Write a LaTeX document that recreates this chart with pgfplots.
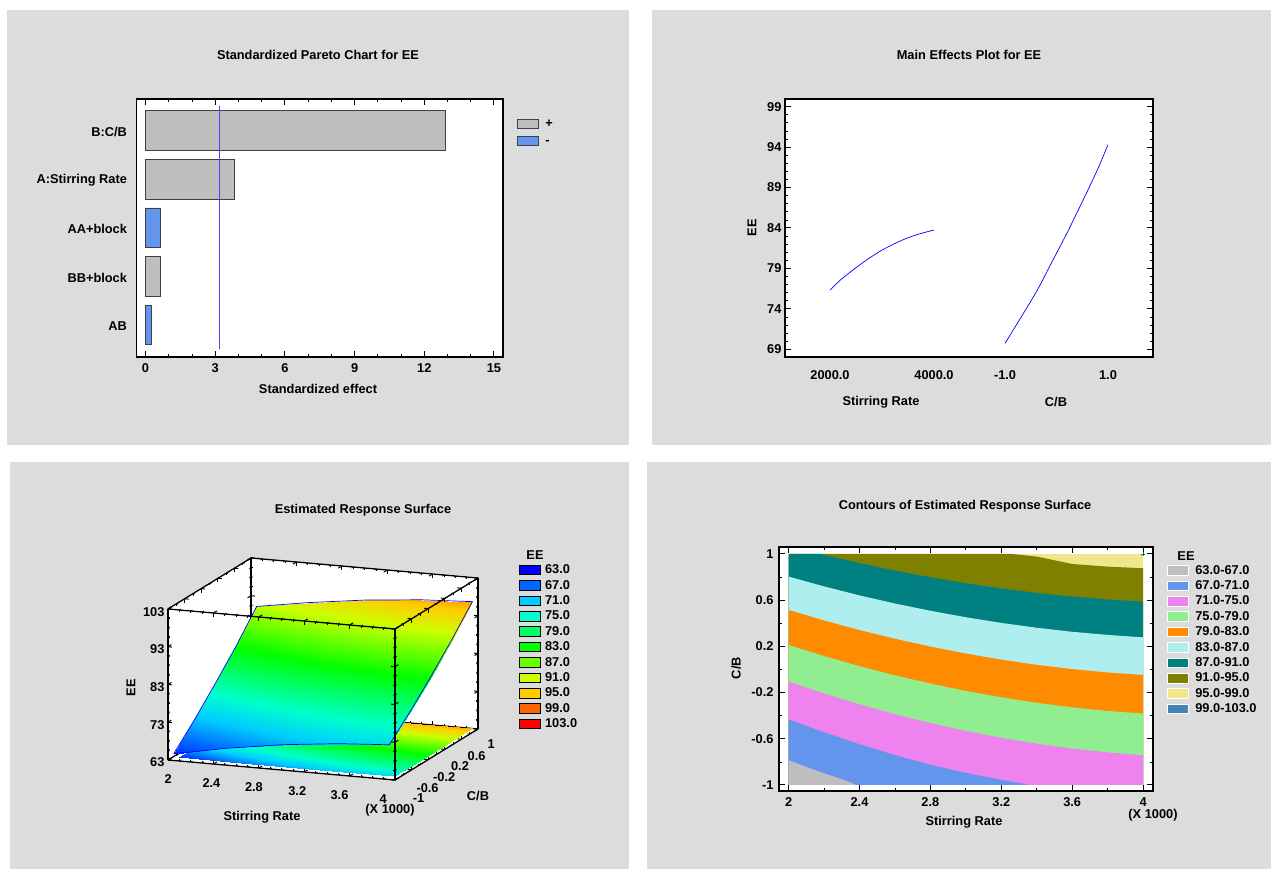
\documentclass[border=0pt]{standalone}
\usepackage{fontspec}
\setmainfont{Liberation Sans}
\usepackage{pgfplots}
\pgfplotsset{compat=1.18}
\definecolor{panel}{RGB}{220,220,220}
\definecolor{cA}{RGB}{190,190,190}
\definecolor{cB}{RGB}{100,149,237}
\definecolor{cC}{RGB}{238,130,238}
\definecolor{cD}{RGB}{144,238,144}
\definecolor{cE}{RGB}{255,140,0}
\definecolor{cF}{RGB}{175,238,238}
\definecolor{cG}{RGB}{0,128,128}
\definecolor{cH}{RGB}{128,128,0}
\definecolor{cI}{RGB}{240,230,140}
\definecolor{cJ}{RGB}{70,130,180}
\definecolor{critline}{RGB}{70,70,255}
\newcommand{\ff}{\fontsize{12.8pt}{15pt}\selectfont\bfseries}
\newcommand{\lab}[4][]{\node[font=\ff,inner sep=0pt,#1] at (#2,869-#3) {#4};}
\pgfplotsset{
  sta/.style={scale only axis, anchor=south west, clip=false,
    axis line style={line width=1.3pt,black},
    tick align=inside,
    major tick length=6pt, minor tick length=3pt,
    tick style={black,line width=1pt},
    minor tick style={black,line width=.7pt},
    tick label style={font=\ff},
    legend cell align=left},
  swatch/.style={legend image code/.code={\draw[##1,line width=.8pt] (0pt,-4.8pt) rectangle (21pt,4.8pt);},
    legend style={draw=none,fill=none,inner sep=0pt,row sep=#1,font=\ff,
      nodes={inner sep=0pt,text height=8.6pt,text depth=1.2pt},
      /tikz/every odd column/.append style={column sep=6.5pt}}},
}
\begin{document}
\begin{tikzpicture}[x=1pt,y=1pt]
\path[use as bounding box,fill=white] (0,0) rectangle (1271,869);
\fill[panel] (7,869-10) rectangle (629,869-445);
\fill[panel] (652,869-10) rectangle (1271,869-445);
\fill[panel] (10,869-462) rectangle (629,0);
\fill[panel] (647,869-462) rectangle (1271,0);
% white walls of the 3D box
\fill[white] (168,869-760) -- (168,869-609) -- (250,869-558) -- (478,869-577) -- (478,869-729) -- (395,869-780) -- cycle;

\lab{318}{55}{Standardized Pareto Chart for EE}
\lab{969}{55}{Main Effects Plot for EE}
\lab{363}{510.5}{Estimated Response Surface}
\lab{965}{506.5}{Contours of Estimated Response Surface}

% ---------- Pareto
\begin{axis}[sta,swatch=6.8pt,at={(136.5pt,512pt)},width=366.5pt,height=258pt,
  axis background/.style={fill=white},
  xmin=-0.39,xmax=15.39,ymin=-0.66,ymax=4.65,
  xtick={0,3,6,9,12,15},xticklabels={0,3,6,9,12,15},minor x tick num=2,
  ytick={0,1,2,3,4},yticklabels={AB,BB+block,AA+block,A:Stirring Rate,B:C/B},
  ytick style={draw=none},
  yticklabel style={xshift=-6pt,yshift=-1.5pt},
  xticklabel style={yshift=-3pt},
  legend style={at={(1.038,0.925)},anchor=north west}]
\addplot[xbar,bar width=39.5pt,bar shift=0pt,fill=cA,draw=black!75,line width=.8pt] coordinates {(12.9,4) (3.84,3) (0.65,1)};
\addlegendentry{+}
\addplot[xbar,bar width=39.5pt,bar shift=0pt,fill=cB,draw=black!75,line width=.8pt] coordinates {(0.65,2) (0.23,0)};
\addlegendentry{-}
\end{axis}
% critical-effect line, in an overlay axis of the same geometry
\begin{axis}[scale only axis,anchor=south west,at={(136.5pt,512pt)},width=366.5pt,height=258pt,
  hide axis,xmin=-0.39,xmax=15.39,ymin=-0.66,ymax=4.65]
\addplot[critline,line width=1pt] coordinates {(3.2,-0.5) (3.2,4.5)};
\end{axis}
\lab{318}{389}{Standardized effect}

% ---------- Main effects
\begin{axis}[sta,at={(785pt,512pt)},width=368pt,height=258pt,
  axis background/.style={fill=white},
  xmin=-0.433,xmax=3.106,ymin=68.05,ymax=99.95,
  xtick={0,1,1.683,2.673},xticklabels={2000.0,4000.0,-1.0,1.0},
  xtick style={draw=none},xticklabel style={yshift=-10pt},
  ytick={69,74,79,84,89,94,99},yticklabels={69,74,79,84,89,94,99},minor y tick num=4]
\addplot[blue,line width=.7pt,smooth] coordinates {(0,76.33) (0.10,77.57) (0.20,78.6) (0.33,79.85) (0.50,81.27) (0.70,82.53) (0.85,83.23) (1,83.75)};
\addplot[blue,line width=.7pt,smooth] coordinates {(1.683,69.74) (1.752,71.18) (1.985,76.13) (2.119,79.43) (2.277,83.33) (2.371,85.8) (2.480,88.69) (2.584,91.57) (2.673,94.3)};
\end{axis}
\lab{881}{402}{Stirring Rate}
\lab{1056}{402}{C/B}
\lab[rotate=90]{752}{228}{EE}

% ---------- 3D surface
\begin{axis}[sta,swatch=5pt,at={(168pt,89pt)},
  x={(113.5pt,-10pt)},y={(41.5pt,25.5pt)},z={(0pt,3.775pt)},
  scale only axis=false,
  xmin=2,xmax=4,ymin=-1,ymax=1,zmin=63,zmax=103,
  3d box=complete*,
  every 3d box foreground/.style={line width=1.6pt},
  xtick={2,2.4,2.8,3.2,3.6,4},
  xticklabels={\kern10pt 2,\kern6pt 2.4,2.8,3.2\kern4pt,3.6\kern10pt,4\kern14pt},
  xticklabel style={yshift=-10pt},
  minor x tick num=3,
  ytick={-1,-0.6,-0.2,0.2,0.6,1},
  yticklabels={\kern14pt -1,-0.6,-0.2,0.2,0.6,1},
  yticklabel style={xshift=6pt,yshift=-7pt},
  minor y tick num=1,
  ztick={63,73,83,93,103},zticklabels={63,73,83,93,103},minor z tick num=3,
  major tick length=4pt,minor tick length=2pt,
  colormap={ee}{rgb255=(0,0,255) rgb255=(0,102,255) rgb255=(0,204,255) rgb255=(0,255,204) rgb255=(0,255,102) rgb255=(0,255,0) rgb255=(102,255,0) rgb255=(204,255,0) rgb255=(255,204,0) rgb255=(255,102,0) rgb255=(255,0,0)},
  point meta min=63,point meta max=103,
  legend style={at={(1.129,0.973)},anchor=north west,/tikz/every odd column/.append style={column sep=4.5pt}}]
\addlegendimage{fill=blue,draw=none}\addlegendentry{63.0}
\addlegendimage{fill={rgb,255:red,0;green,102;blue,255},draw=none}\addlegendentry{67.0}
\addlegendimage{fill={rgb,255:red,0;green,204;blue,255},draw=none}\addlegendentry{71.0}
\addlegendimage{fill={rgb,255:red,0;green,255;blue,204},draw=none}\addlegendentry{75.0}
\addlegendimage{fill={rgb,255:red,0;green,255;blue,102},draw=none}\addlegendentry{79.0}
\addlegendimage{fill={rgb,255:red,0;green,255;blue,0},draw=none}\addlegendentry{83.0}
\addlegendimage{fill={rgb,255:red,102;green,255;blue,0},draw=none}\addlegendentry{87.0}
\addlegendimage{fill={rgb,255:red,204;green,255;blue,0},draw=none}\addlegendentry{91.0}
\addlegendimage{fill={rgb,255:red,255;green,204;blue,0},draw=none}\addlegendentry{95.0}
\addlegendimage{fill={rgb,255:red,255;green,102;blue,0},draw=none}\addlegendentry{99.0}
\addlegendimage{fill={rgb,255:red,255;green,0;blue,0},draw=none}\addlegendentry{103.0}
% floor projection
\addplot3[surf,shader=interp,forget plot,point meta=explicit] table[x=x,y=y,z=f,meta=e] {
x y f e
2.05 -0.88 63 64.8
2.5 -0.88 63 67.4
3 -0.88 63 69.7
3.5 -0.88 63 71.3
3.95 -0.88 63 72.2

2.05 -0.5 63 70.4
2.5 -0.5 63 73.0
3 -0.5 63 75.2
3.5 -0.5 63 76.8
3.95 -0.5 63 77.6

2.05 0 63 76.6
2.5 0 63 79.1
3 0 63 81.2
3.5 0 63 82.7
3.95 0 63 83.5

2.05 0.5 63 83.1
2.5 0.5 63 85.5
3 0.5 63 87.6
3.5 0.5 63 89.0
3.95 0.5 63 89.8

2.05 1 63 90.3
2.5 1 63 92.5
3 1 63 94.5
3.5 1 63 95.9
3.95 1 63 96.6
};
% response surface
\addplot3[surf,shader=interp,forget plot,point meta=explicit] table[x=x,y=y,z=e,meta=e] {
x y e
2.05 -1 64.8
2.5 -1 67.4
3 -1 69.7
3.5 -1 71.3
3.95 -1 72.2

2.05 -0.5 70.4
2.5 -0.5 73.0
3 -0.5 75.2
3.5 -0.5 76.8
3.95 -0.5 77.6

2.05 0 76.6
2.5 0 79.1
3 0 81.2
3.5 0 82.7
3.95 0 83.5

2.05 0.5 83.1
2.5 0.5 85.5
3 0.5 87.6
3.5 0.5 89.0
3.95 0.5 89.8

2.05 1 90.3
2.5 1 92.5
3 1 94.5
3.5 1 95.9
3.95 1 96.6
};
\addplot3[blue,line width=.7pt,forget plot] coordinates {(2.05,-1,64.8) (2.5,-1,67.4) (3,-1,69.7) (3.5,-1,71.3) (3.95,-1,72.2) (3.95,-0.5,77.6) (3.95,0,83.5) (3.95,0.5,89.8) (3.95,1,96.6) (3.5,1,95.9) (3,1,94.5) (2.5,1,92.5) (2.05,1,90.3) (2.05,0.5,83.1) (2.05,0,76.6) (2.05,-0.5,70.4) (2.05,-1,64.8)};
\end{axis}
\lab{535}{555}{EE}
\lab{262}{817}{Stirring Rate}
\lab{390}{810}{(X 1000)}
\lab{478}{796}{C/B}
\lab[rotate=90]{131}{688}{EE}

% ---------- Contours
\begin{axis}[sta,swatch=5pt,at={(779pt,78pt)},width=374pt,height=244pt,
  axis background/.style={fill=white},
  xmin=1.946,xmax=4.056,ymin=-1.052,ymax=1.06,
  xtick={2,2.4,2.8,3.2,3.6,4},xticklabels={2,2.4,2.8,3.2,3.6,4},minor x tick num=1,
  xticklabel style={yshift=-3pt},
  ytick={-1,-0.6,-0.2,0.2,0.6,1},yticklabels={-1,-0.6,-0.2,0.2,0.6,1},minor y tick num=1,
  yticklabel style={xshift=-2pt},
  axis on top,
  legend style={at={(1.037,0.926)},anchor=north west}]
\addlegendimage{fill=cA,draw=white}\addlegendentry{63.0-67.0}
\addlegendimage{fill=cB,draw=white}\addlegendentry{67.0-71.0}
\addlegendimage{fill=cC,draw=white}\addlegendentry{71.0-75.0}
\addlegendimage{fill=cD,draw=white}\addlegendentry{75.0-79.0}
\addlegendimage{fill=cE,draw=white}\addlegendentry{79.0-83.0}
\addlegendimage{fill=cF,draw=white}\addlegendentry{83.0-87.0}
\addlegendimage{fill=cG,draw=white}\addlegendentry{87.0-91.0}
\addlegendimage{fill=cH,draw=white}\addlegendentry{91.0-95.0}
\addlegendimage{fill=cI,draw=white}\addlegendentry{95.0-99.0}
\addlegendimage{fill=cJ,draw=white}\addlegendentry{99.0-103.0}
\addplot[fill=cI,draw=none,forget plot] coordinates {(2,-1) (2,1) (4,1) (4,-1)} -- cycle;
\addplot[fill=cH,draw=none,forget plot] coordinates {(2,-1) (2,1) (3.26,1) (3.4,0.977) (3.6,0.913) (3.8,0.89) (4,0.876) (4,-1)} -- cycle;
\addplot[fill=cG,draw=none,forget plot] coordinates {(2,-1) (2,1) (2.18,1) (2.4,0.921) (2.6,0.856) (2.8,0.798) (3,0.746) (3.2,0.701) (3.4,0.663) (3.6,0.631) (3.8,0.606) (4,0.587) (4,-1)} -- cycle;
\addplot[fill=cF,draw=none,forget plot] coordinates {(2,-1) (2,0.804) (2.2,0.719) (2.4,0.641) (2.6,0.571) (2.8,0.508) (3,0.452) (3.2,0.403) (3.4,0.361) (3.6,0.326) (3.8,0.299) (4,0.278) (4,-1)} -- cycle;
\addplot[fill=cE,draw=none,forget plot] coordinates {(2,-1) (2,0.515) (2.2,0.424) (2.4,0.341) (2.6,0.266) (2.8,0.198) (3,0.138) (3.2,0.085) (3.4,0.04) (3.6,0.003) (3.8,-0.026) (4,-0.048) (4,-1)} -- cycle;
\addplot[fill=cD,draw=none,forget plot] coordinates {(2,-1) (2,0.212) (2.2,0.116) (2.4,0.028) (2.6,-0.051) (2.8,-0.122) (3,-0.186) (3.2,-0.241) (3.4,-0.289) (3.6,-0.328) (3.8,-0.359) (4,-0.382) (4,-1)} -- cycle;
\addplot[fill=cC,draw=none,forget plot] coordinates {(2,-1) (2,-0.105) (2.2,-0.208) (2.4,-0.302) (2.6,-0.388) (2.8,-0.464) (3,-0.532) (3.2,-0.592) (3.4,-0.643) (3.6,-0.685) (3.8,-0.718) (4,-0.743) (4,-1)} -- cycle;
\addplot[fill=cB,draw=none,forget plot] coordinates {(2,-1) (2,-0.431) (2.2,-0.544) (2.4,-0.647) (2.6,-0.741) (2.8,-0.825) (3,-0.895) (3.2,-0.955) (3.36,-1)} -- cycle;
\addplot[fill=cA,draw=none,forget plot] coordinates {(2,-1) (2,-0.784) (2.07,-0.827) (2.2,-0.899) (2.34,-0.971) (2.38,-1)} -- cycle;
\addplot[only marks,mark=+,mark size=2pt,green!50!black,forget plot] coordinates {(4,1)};
\end{axis}
\lab{1186}{556}{EE}
\lab{964}{822}{Stirring Rate}
\lab{1153}{815}{(X 1000)}
\lab[rotate=90]{736}{668}{C/B}
\end{tikzpicture}
\end{document}
